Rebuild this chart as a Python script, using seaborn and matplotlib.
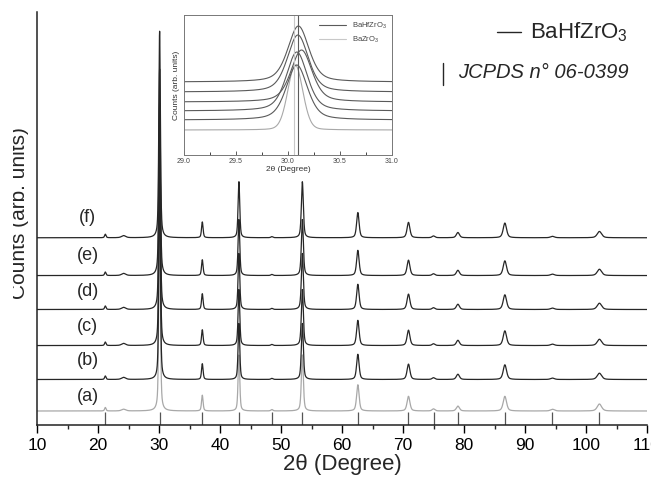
import numpy as np
import pandas as pd
import matplotlib
matplotlib.use("Agg")
import matplotlib.pyplot as plt
import seaborn as sns
from matplotlib.lines import Line2D
from matplotlib.transforms import Bbox, TransformedBbox

sns.set_theme(style="white")
plt.rcParams["font.family"] = ["Liberation Sans", "DejaVu Sans"]
plt.rcParams["mathtext.fontset"] = "custom"
plt.rcParams["mathtext.rm"] = "Liberation Sans"

# ---------------- data ----------------
samples = ["(a)", "(b)", "(c)", "(d)", "(e)", "(f)"]
offsets = [0.0, 0.9, 1.87, 2.9, 3.87, 4.95]
label_dy = [0.42, 0.54, 0.54, 0.5, 0.57, 0.57]

peak_pos = [21.2, 24.2, 30.1, 37.1, 43.1, 48.5, 53.5, 62.6, 70.9, 75.0, 79.0, 86.7, 94.5, 102.2]
peak_fwhm = [0.28, 0.8, 0.3, 0.3, 0.32, 0.38, 0.38, 0.48, 0.55, 0.55, 0.6, 0.65, 0.75, 0.85]
int_hfzr = [0.1, 0.06, 5.9, 0.45, 1.6, 0.03, 1.6, 0.72, 0.44, 0.05, 0.15, 0.42, 0.04, 0.18]
int_zr = [0.1, 0.05, 5.9, 0.45, 1.6, 0.04, 1.6, 0.75, 0.42, 0.06, 0.14, 0.42, 0.05, 0.2]

jcpds_pos = [21.2, 30.1, 37.1, 43.1, 48.5, 53.5, 62.6, 70.9, 75.0, 79.0, 86.7, 94.5, 102.2]

# inset data
inset_offsets = [2.5, 3.5, 4.4, 5.3, 6.3, 7.3]
inset_heights = [6.5, 5.5, 5.9, 5.2, 5.7, 5.6]
inset_centers = [30.07, 30.085, 30.085, 30.13, 30.095, 30.10]
inset_fwhm = [0.17, 0.24, 0.24, 0.24, 0.24, 0.24]
inset_names = ["BaZrO$_\\mathregular{3}$", "BaHfZrO$_\\mathregular{3}$"]
inset_vlines = [30.055, 30.10]

dark = "#262626"
light = "#a8a8a8"


def pv(x, c, w, h, eta=0.5):
    g = np.exp(-4 * np.log(2) * ((x - c) / w) ** 2)
    l = 1.0 / (1 + 4 * ((x - c) / w) ** 2)
    return h * (eta * l + (1 - eta) * g)


x = np.linspace(10, 110, 8001)
frames = []
for i, s in enumerate(samples):
    ints = int_zr if i == 0 else int_hfzr
    y = np.zeros_like(x)
    for p, w, h in zip(peak_pos, peak_fwhm, ints):
        y += pv(x, p, w, h)
    frames.append(pd.DataFrame({"x": x, "y": y + offsets[i], "sample": s}))
df = pd.concat(frames, ignore_index=True)

xi = np.linspace(29.0, 31.0, 801)
iframes = []
for i in range(6):
    yi = pv(xi, inset_centers[i], inset_fwhm[i], inset_heights[i], eta=0.45 if i else 0.15)
    iframes.append(pd.DataFrame({"x": xi, "y": yi + inset_offsets[i], "curve": f"c{i}"}))
dfi = pd.concat(iframes, ignore_index=True)

# ---------------- figure ----------------
fig = plt.figure(figsize=(6.51, 4.80), dpi=100)
ax = fig.add_axes([37 / 651, 1 - 425 / 480, 610 / 651, 413 / 480])

palette = {s: (light if i == 0 else dark) for i, s in enumerate(samples)}
sns.lineplot(data=df, x="x", y="y", hue="sample", palette=palette, estimator=None,
             sort=False, lw=0.9, legend=False, ax=ax)

ax.vlines(jcpds_pos, -0.4, -0.04, color="#555555", lw=0.9)

for i, s in enumerate(samples):
    ax.text(18.3, offsets[i] + label_dy[i], s, fontsize=13, ha="center", va="center")

ax.set_xlim(10, 110)
ax.set_ylim(-0.4, 11.4)
ax.set_xticks(np.arange(10, 111, 10))
ax.set_xticks(np.arange(15, 110, 10), minor=True)
ax.set_yticks([])
ax.tick_params(axis="x", which="major", direction="out", length=6, width=1, labelsize=12.5,
               bottom=True, pad=3, colors="black")
ax.tick_params(axis="x", which="minor", direction="out", length=3, width=1, bottom=True)
for sp in ["top", "right"]:
    ax.spines[sp].set_visible(False)
for sp in ["left", "bottom"]:
    ax.spines[sp].set_color("#222222")
    ax.spines[sp].set_linewidth(1.1)
ax.set_xlabel("2θ (Degree)", fontsize=16, labelpad=1)
ax.set_ylabel("")

yl = fig.text(20 / 651, 1 - 213 / 480, "Counts (arb. units)", rotation=90, fontsize=15,
              ha="center", va="center")
yl.set_clip_box(TransformedBbox(Bbox([[13 / 651, 0], [1, 1]]), fig.transFigure))
yl.set_clip_on(True)

# main legend
fig.add_artist(Line2D([497 / 651, 521 / 651], [1 - 32 / 480, 1 - 32 / 480], color=dark, lw=1))
fig.text(530 / 651, 1 - 32 / 480, "BaHfZrO$_\\mathregular{3}$", fontsize=16, va="center", ha="left")
fig.add_artist(Line2D([443 / 651, 443 / 651], [1 - 63 / 480, 1 - 85 / 480], color=dark, lw=1))
fig.text(458 / 651, 1 - 73 / 480, "JCPDS n° 06-0399", fontsize=14.5, style="italic",
         va="center", ha="left")

# inset
axi = fig.add_axes([184 / 651, 1 - 155 / 480, 208 / 651, 140 / 480])
ipal = {f"c{i}": (light if i == 0 else "#5a5a5a") for i in range(6)}
sns.lineplot(data=dfi, x="x", y="y", hue="curve", palette=ipal, estimator=None, sort=False,
             lw=0.8, legend=False, ax=axi)
axi.axvline(inset_vlines[0], color="#c8c8c8", lw=0.8)
axi.axvline(inset_vlines[1], color="#5a5a5a", lw=0.8)
axi.set_xlim(29.0, 31.0)
axi.set_ylim(0, 14)
axi.set_xticks([29.0, 29.5, 30.0, 30.5, 31.0])
axi.set_xticklabels(["29.0", "29.5", "30.0", "30.5", "31.0"])
axi.set_xticks(np.arange(29.25, 31.0, 0.5), minor=True)
axi.set_yticks([])
axi.tick_params(axis="x", which="major", direction="in", length=3, width=0.6, labelsize=5,
                bottom=True, pad=2, colors="#444444")
axi.tick_params(axis="x", which="minor", direction="in", length=2, width=0.6, bottom=True)
for sp in axi.spines.values():
    sp.set_color("#777777")
    sp.set_linewidth(0.7)
axi.set_xlabel("2θ (Degree)", fontsize=6, labelpad=1, color="#333333")
axi.set_ylabel("Counts (arb. units)", fontsize=6, labelpad=3, color="#333333")
ih = [Line2D([], [], color="#5a5a5a", lw=0.8), Line2D([], [], color="#c8c8c8", lw=0.8)]
axi.legend(ih, [inset_names[1], inset_names[0]], loc="upper right", fontsize=5.5, frameon=False,
           handlelength=3.5, borderaxespad=0.3, labelcolor="#444444")

fig.savefig("out.png", dpi=100)
